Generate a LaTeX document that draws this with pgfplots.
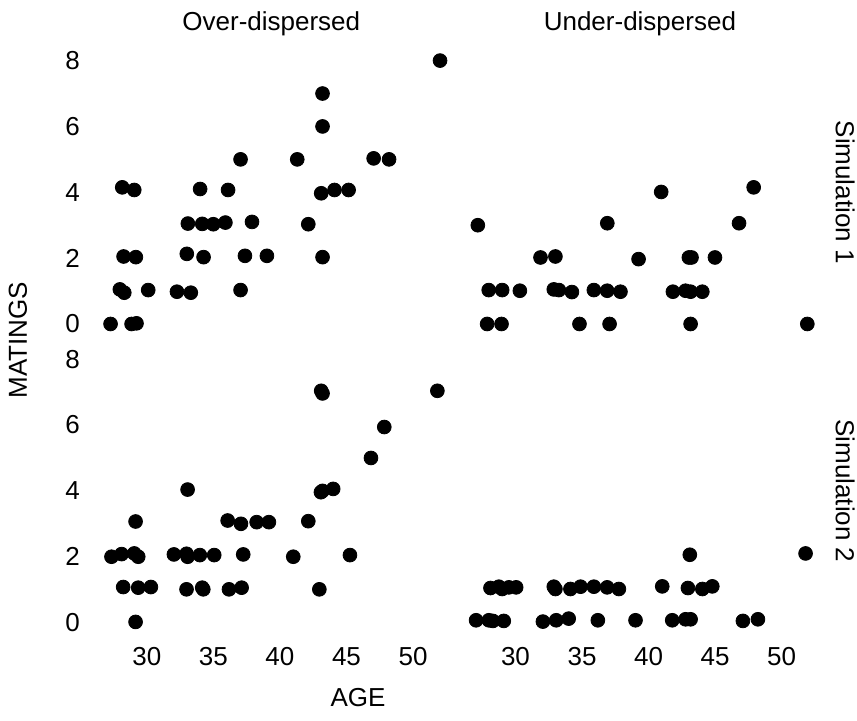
\documentclass[border=0pt]{standalone}
\usepackage{fontspec}
\setmainfont{Liberation Sans}
\usepackage{pgfplots}
\usepackage{pgfplotstable}
\pgfplotsset{compat=1.18}

% over-dispersed, simulation 1
\pgfplotstableread{
age m
52.03 8.00
43.20 7.00
43.20 6.00
37.04 5.00
41.30 5.00
47.04 5.03
48.20 5.00
28.15 4.15
29.05 4.07
34.00 4.10
36.10 4.07
43.10 3.97
44.10 4.07
45.16 4.07
33.08 3.05
34.16 3.04
34.99 3.03
35.90 3.08
37.90 3.10
42.13 3.03
28.25 2.05
29.17 2.03
33.00 2.13
34.26 2.03
37.37 2.07
39.02 2.07
43.20 2.03
27.97 1.05
28.30 0.95
30.10 1.03
32.26 0.98
33.30 0.95
37.04 1.03
27.27 0.00
28.85 0.00
29.22 0.02
}\odone
% under-dispersed, simulation 1
\pgfplotstableread{
age m
27.17 3.00
40.95 4.01
47.90 4.15
36.90 3.06
46.80 3.06
31.88 2.02
33.00 2.05
39.25 1.97
43.03 2.02
43.23 2.02
44.99 2.02
27.99 1.03
29.00 1.03
30.33 1.01
32.88 1.05
33.26 1.03
34.24 0.97
35.89 1.03
36.89 1.01
37.89 0.98
41.83 0.98
42.78 1.01
43.16 0.98
44.04 0.98
27.87 0.00
28.95 0.00
34.81 0.00
37.07 0.00
43.16 0.00
51.93 0.00
}\udone
% over-dispersed, simulation 2
\pgfplotstableread{
age m
43.10 7.04
43.20 6.96
51.83 7.04
47.84 5.94
46.84 5.00
33.06 4.04
43.08 3.96
43.20 4.00
44.00 4.06
29.15 3.07
36.07 3.10
37.07 3.00
38.25 3.05
39.17 3.05
42.13 3.08
27.34 2.00
28.10 2.08
29.05 2.10
29.35 2.00
32.03 2.07
32.98 2.09
33.06 2.00
33.98 2.05
35.06 2.05
37.24 2.07
41.00 2.00
45.26 2.05
28.22 1.08
29.35 1.06
30.30 1.08
32.98 1.01
34.16 1.06
34.24 1.01
36.17 1.01
37.12 1.06
42.96 1.01
29.15 0.02
}\odtwo
% under-dispersed, simulation 2
\pgfplotstableread{
age m
51.80 2.10
43.10 2.06
28.12 1.05
28.75 1.09
29.00 1.02
29.50 1.07
30.05 1.07
32.88 1.09
33.00 1.02
34.13 1.02
34.89 1.09
35.89 1.09
36.89 1.07
37.77 1.02
41.03 1.10
42.96 1.05
44.04 1.02
44.79 1.10
27.04 0.07
28.00 0.07
28.30 0.05
29.12 0.05
32.06 0.03
33.06 0.07
34.00 0.12
36.19 0.07
39.02 0.07
41.78 0.07
42.78 0.10
43.16 0.10
47.09 0.05
48.22 0.10
}\udtwo

\pgfplotsset{
  facet/.style={
    scale only axis, width=184.3pt, height=149.3pt,
    anchor=south west,
    xmin=25.5, xmax=53.2, ymin=-0.535, ymax=8.535,
    axis line style={draw=none}, major tick length=0pt,
    xtick={30,35,40,45,50}, ytick={0,2,4,6,8},
    tick label style={font=\fontsize{13}{15}\selectfont},
    /pgf/number format/assume math mode=true,
    clip=false,
  },
  dots/.style={only marks, mark=*, mark size=3.45pt, black, mark options={fill=black}},
}

\begin{document}
\begin{tikzpicture}[font=\fontsize{13}{15}\selectfont]
\path[use as bounding box] (0,0) rectangle (428.5pt,360.5pt);

\begin{axis}[facet, at={(43.5pt,189.7pt)}, xticklabels={}]
  \addplot[dots] table[x=age, y=m] {\odone};
  \node[yshift=9.5pt] at (rel axis cs:0.5,1) {Over-dispersed};
\end{axis}

\begin{axis}[facet, at={(227.8pt,189.7pt)}, xticklabels={}, yticklabels={}]
  \addplot[dots] table[x=age, y=m] {\udone};
  \node[yshift=9.5pt] at (rel axis cs:0.5,1) {Under-dispersed};
  \node[xshift=10.5pt, rotate=-90] at (rel axis cs:1,0.5) {Simulation 1};
\end{axis}

\begin{axis}[facet, at={(43.5pt,40.4pt)}]
  \addplot[dots] table[x=age, y=m] {\odtwo};
\end{axis}

\begin{axis}[facet, at={(227.8pt,40.4pt)}, yticklabels={}]
  \addplot[dots] table[x=age, y=m] {\udtwo};
  \node[xshift=10.5pt, rotate=-90] at (rel axis cs:1,0.5) {Simulation 2};
\end{axis}

\node[rotate=90] at (9pt,190.5pt) {MATINGS};
\node at (179pt,11.5pt) {AGE};
\end{tikzpicture}
\end{document}
